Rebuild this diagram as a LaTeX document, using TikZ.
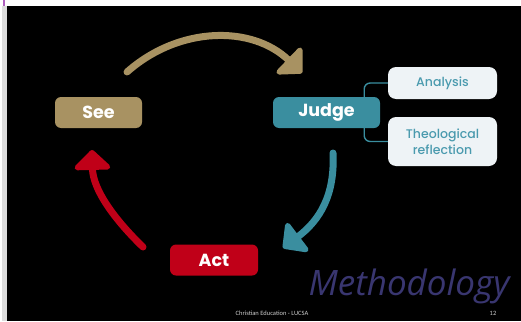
\documentclass[tikz,border=0pt]{standalone}
\usepackage{fontspec}
\setmainfont{Poppins}
\newfontfamily\subfont{Poppins Medium}
\newfontfamily\methfont{Open Sans}
\newfontfamily\footfont{Carlito}
\usetikzlibrary{arrows.meta,calc}
\definecolor{seetan}{HTML}{A89262}
\definecolor{judgeteal}{HTML}{3A8E9F}
\definecolor{actred}{HTML}{C00018}
\definecolor{subfill}{HTML}{EEF3F6}
\definecolor{subtext}{HTML}{4A9AAE}
\definecolor{methblue}{HTML}{393670}
\definecolor{stripgrey}{HTML}{DDDDDD}
\definecolor{tickpurple}{HTML}{B060C0}
\tikzset{
  mainbox/.style={rounded corners=6pt, minimum height=31pt, text=white, font=\fontsize{17.5}{19}\selectfont\bfseries, inner sep=0pt},
  subbox/.style={fill=subfill, rounded corners=8pt, minimum width=109pt, text=subtext, font=\subfont\fontsize{12.5}{15.5}\selectfont, align=center, inner sep=0pt},
  conn/.style={draw=judgeteal, line width=1.4pt, rounded corners=6pt},
  cyc/.style={line width=7pt, line cap=round},
  cyctip/.style={-{Triangle[width=42pt,length=21pt,round]}},
}
\begin{document}
\begin{tikzpicture}[x=1pt,y=-1pt]
\useasboundingbox (0,0) rectangle (521,321);
\fill[white] (0,0) rectangle (521,321);
\fill[stripgrey] (2,6) rectangle (7,321);
\fill[black] (7,6) rectangle (521,321);
\fill[tickpurple] (3,0) rectangle (5,6);

\node[mainbox, fill=seetan, minimum width=87pt] (see) at (98.5,112.5) {See};
\node[mainbox, fill=judgeteal, minimum width=107pt] (judge) at (326.5,112.5) {Judge};
\node[mainbox, fill=actred, minimum width=88pt] (act) at (214,260) {Act};
\node[subbox, minimum height=32pt] (analysis) at (442.5,83) {Analysis};
\node[subbox, minimum height=49pt] (theo) at (442.5,141.5) {Theological\\reflection};

\coordinate (jt) at ($(judge.north east)+(-16,0)$);
\coordinate (jb) at ($(judge.south east)+(-16,0)$);
\draw[conn] (jt) |- (analysis.west);
\draw[conn] (jb) |- (theo.west);

\coordinate (s1) at (127,72);
\coordinate (e1) at (302,73);
\draw[cyc, seetan, cyctip] (s1) .. controls (179,26) and (252,25) .. (e1);
\coordinate (s2) at (333,153);
\coordinate (e2) at (283,248);
\draw[cyc, judgeteal, cyctip] (s2) .. controls (335,195) and (320,220) .. (e2);
\coordinate (s3) at (143,247);
\coordinate (e3) at (92,150);
\draw[cyc, actred, cyctip] (s3) .. controls (115,220) and (93,190) .. (e3);

\node[text=methblue, font=\methfont\itshape\fontsize{35}{40}\selectfont, anchor=base, inner sep=0pt] (meth) at (409,295) {Methodology};
\node[text=white!80!black, font=\footfont\fontsize{6.5}{7}\selectfont, inner sep=0pt] (foot) at (272,313) {Christian Education - LUCSA};
\node[text=white!80!black, font=\footfont\fontsize{6.5}{7}\selectfont, inner sep=0pt] (page) at (493,313) {12};
\end{tikzpicture}
\end{document}
